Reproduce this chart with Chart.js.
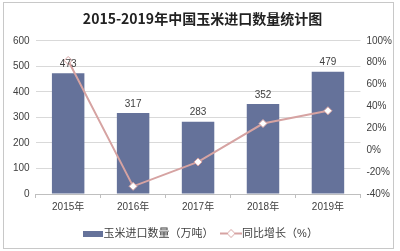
<!DOCTYPE html>
<html>
<head>
<meta charset="utf-8">
<script src="https://cdn.jsdelivr.net/npm/chart.js@4/dist/chart.umd.min.js"></script>
<style>
  html, body { margin: 0; padding: 0; background: #fff; }
  #wrap { width: 400px; height: 251px; }
</style>
</head>
<body>
<div id="wrap"><canvas id="corn" width="400" height="251"></canvas></div>
<script>
// data
const years = ['2015年', '2016年', '2017年', '2018年', '2019年'];
const imports = [473, 317, 283, 352, 479];      // 万吨
const growth = [82, -33, -10.7, 24.4, 36.1];    // %

const barColor = '#65729a';
const lineColor = '#d6a3a2';
const FONT = '"Liberation Sans", "Noto Sans CJK SC", sans-serif';

// legend swatches
function barSwatch() {
  const c = document.createElement('canvas');
  c.width = 20; c.height = 6;
  const g = c.getContext('2d');
  g.fillStyle = barColor;
  g.fillRect(0, 0, 20, 6);
  return c;
}
function lineSwatch() {
  const c = document.createElement('canvas');
  c.width = 22; c.height = 10;
  const g = c.getContext('2d');
  g.strokeStyle = lineColor; g.lineWidth = 2;
  g.beginPath(); g.moveTo(0, 5); g.lineTo(22, 5); g.stroke();
  g.fillStyle = '#fff'; g.lineWidth = 1;
  g.beginPath(); g.moveTo(11, 1); g.lineTo(15, 5); g.lineTo(11, 9); g.lineTo(7, 5); g.closePath();
  g.fill(); g.stroke();
  return c;
}

// value labels above the bars
const barLabels = {
  id: 'barLabels',
  afterDatasetsDraw(chart) {
    const ctx = chart.ctx;
    const meta = chart.getDatasetMeta(1);
    ctx.save();
    ctx.font = '10px ' + FONT;
    ctx.fillStyle = '#404040';
    ctx.textAlign = 'center';
    ctx.textBaseline = 'bottom';
    meta.data.forEach((bar, i) => {
      ctx.fillText(imports[i], bar.x, bar.y - 4);
    });
    ctx.restore();
  }
};

// thin frame around the whole picture
const frame = {
  id: 'frame',
  beforeDraw(chart) {
    const ctx = chart.ctx;
    ctx.save();
    ctx.fillStyle = '#fff';
    ctx.fillRect(0, 0, chart.width, chart.height);
    ctx.strokeStyle = '#c8c8c8';
    ctx.lineWidth = 1;
    ctx.strokeRect(3.5, 2.5, 390, 246);
    ctx.restore();
  }
};

new Chart(document.getElementById('corn'), {
  data: {
    labels: years,
    datasets: [
      {
        type: 'line',
        label: '同比增长（%）',
        data: growth,
        yAxisID: 'y1',
        borderColor: lineColor,
        borderWidth: 2,
        pointStyle: 'rectRot',
        pointRadius: 4,
        pointBackgroundColor: '#fff',
        pointBorderColor: lineColor,
        pointBorderWidth: 1,
        tension: 0,
        order: 0
      },
      {
        type: 'bar',
        label: '玉米进口数量（万吨）',
        data: imports,
        yAxisID: 'y',
        backgroundColor: barColor,
        barPercentage: 0.5,
        categoryPercentage: 1,
        order: 1
      }
    ]
  },
  options: {
    responsive: false,
    animation: false,
    layout: { padding: { left: 7, right: 2, top: 0, bottom: 2 } },
    plugins: {
      title: {
        display: true,
        text: '2015-2019年中国玉米进口数量统计图',
        color: '#222',
        font: { family: '"Noto Sans CJK SC", sans-serif', size: 14, weight: 'bold' },
        padding: { top: 10, bottom: 14 }
      },
      legend: {
        position: 'bottom',
        labels: {
          usePointStyle: true,
          color: '#404040',
          font: { family: FONT, size: 11 },
          boxWidth: 18,
          padding: 12,
          generateLabels(chart) {
            return [
              { text: '玉米进口数量（万吨）', pointStyle: barSwatch(), datasetIndex: 1, fontColor: '#404040' },
              { text: '同比增长（%）', pointStyle: lineSwatch(), datasetIndex: 0, fontColor: '#404040' }
            ];
          }
        }
      },
      tooltip: { enabled: false }
    },
    scales: {
      x: {
        offset: true,
        grid: { offset: true, display: true, drawOnChartArea: false, color: '#bfbfbf', tickLength: 4 },
        border: { color: '#bfbfbf' },
        ticks: { color: '#404040', font: { family: FONT, size: 10 } }
      },
      y: {
        position: 'left',
        min: 0, max: 600,
        ticks: { stepSize: 100, color: '#404040', font: { family: FONT, size: 10 }, padding: 6 },
        grid: { color: '#d9d9d9', drawTicks: false },
        border: { display: false }
      },
      y1: {
        position: 'right',
        min: -40, max: 100,
        ticks: { stepSize: 20, color: '#404040', font: { family: FONT, size: 10 }, padding: 6,
          callback: v => v + '%' },
        grid: { drawOnChartArea: false, drawTicks: false },
        border: { display: false }
      }
    }
  },
  plugins: [frame, barLabels]
});
</script>
</body>
</html>
